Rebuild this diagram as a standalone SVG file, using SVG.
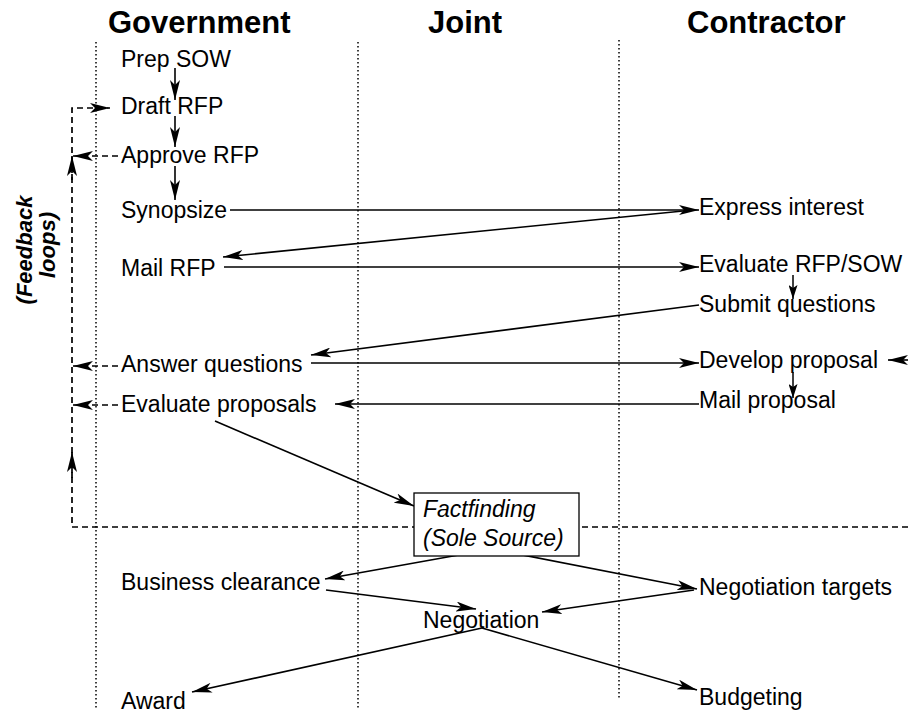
<svg xmlns="http://www.w3.org/2000/svg" width="908" height="715" viewBox="0 0 908 715">
<defs>
<marker id="ah" viewBox="0 0 20 10" refX="20" refY="5" markerWidth="20" markerHeight="10" orient="auto" markerUnits="userSpaceOnUse">
<path d="M0,0 L20,5 L0,10 L5,5 z" fill="#000"/>
</marker>
<marker id="ahs" viewBox="0 0 14 9" refX="14" refY="4.5" markerWidth="14" markerHeight="9" orient="auto" markerUnits="userSpaceOnUse">
<path d="M0,0 L14,4.5 L0,9 L3,4.5 z" fill="#000"/>
</marker>
<style>
.hdr{font-family:"Liberation Sans",Arial,sans-serif;font-weight:bold;font-size:31px;fill:#000}
.t{font-family:"Liberation Sans",Arial,sans-serif;font-size:23px;fill:#000}
.ti{font-family:"Liberation Sans",Arial,sans-serif;font-size:23px;font-style:italic;fill:#000}
.fb{font-family:"Liberation Sans",Arial,sans-serif;font-size:22px;font-weight:bold;font-style:italic;fill:#000}
.lane{stroke:#000;stroke-width:1.5;stroke-dasharray:1.5 2.5;fill:none}
.c{stroke:#000;stroke-width:1.6;fill:none;marker-end:url(#ah)}
.cs{stroke:#000;stroke-width:1.5;fill:none;marker-end:url(#ahs)}
.da{stroke:#000;stroke-width:1.7;fill:none;stroke-dasharray:6 4;marker-end:url(#ah)}
</style>
</defs>
<rect width="908" height="715" fill="#fff"/>
<g id="lanes">
<text class="hdr" x="108" y="33">Government</text>
<text class="hdr" x="428" y="33">Joint</text>
<text class="hdr" x="687" y="33">Contractor</text>
<line class="lane" x1="96" y1="42" x2="96" y2="710"/>
<line class="lane" x1="358" y1="42" x2="358" y2="710"/>
<line class="lane" x1="619" y1="40" x2="619" y2="698"/>
</g>
<g id="connectors">
<path class="da" d="M908,527 L72,527 L72,108 L110,108"/>
<line class="da" x1="72" y1="180" x2="72" y2="156"/>
<line class="da" x1="72" y1="478" x2="72" y2="452"/>
<line class="da" x1="118" y1="156" x2="73" y2="156"/>
<line class="da" x1="118" y1="366" x2="73" y2="366"/>
<line class="da" x1="118" y1="405" x2="73" y2="405"/>
<line class="c" x1="908" y1="360" x2="888" y2="360"/>
<line class="c" x1="175" y1="68" x2="175" y2="100"/>
<line class="c" x1="175" y1="116" x2="175" y2="147"/>
<line class="c" x1="175" y1="166" x2="175" y2="200"/>
<line class="c" x1="230" y1="210" x2="699" y2="210"/>
<line class="c" x1="693" y1="210" x2="223" y2="257"/>
<line class="c" x1="224" y1="267" x2="699" y2="267"/>
<line class="cs" x1="793" y1="275" x2="793" y2="299"/>
<line class="c" x1="699" y1="305" x2="311" y2="355"/>
<line class="c" x1="311" y1="363" x2="699" y2="363"/>
<line class="cs" x1="793" y1="372" x2="793" y2="398"/>
<line class="c" x1="699" y1="404" x2="335" y2="404"/>
<line class="c" x1="215" y1="421" x2="414" y2="506"/>
<line class="c" x1="492" y1="549" x2="325" y2="579"/>
<line class="c" x1="492" y1="549" x2="697" y2="589"/>
<line class="c" x1="326" y1="590" x2="476" y2="609"/>
<line class="c" x1="694" y1="590" x2="542" y2="612"/>
<line class="c" x1="482" y1="628" x2="192" y2="692"/>
<line class="c" x1="482" y1="628" x2="697" y2="690"/>
</g>
<g id="feedback-label">
<text class="fb" transform="translate(32,250) rotate(-90)" text-anchor="middle">(Feedback</text>
<text class="fb" transform="translate(55,245) rotate(-90)" text-anchor="middle">loops)</text>
</g>
<g id="prep-sow"><text class="t" x="121" y="67">Prep SOW</text></g>
<g id="draft-rfp"><text class="t" x="121" y="114">Draft RFP</text></g>
<g id="approve-rfp"><text class="t" x="121" y="163">Approve RFP</text></g>
<g id="synopsize"><text class="t" x="121" y="218">Synopsize</text></g>
<g id="mail-rfp"><text class="t" x="121" y="276">Mail RFP</text></g>
<g id="answer-questions"><text class="t" x="121" y="372">Answer questions</text></g>
<g id="evaluate-proposals"><text class="t" x="121" y="412">Evaluate proposals</text></g>
<g id="business-clearance"><text class="t" x="121" y="590">Business clearance</text></g>
<g id="award"><text class="t" x="121" y="709">Award</text></g>
<g id="factfinding">
<rect x="414" y="493" width="165" height="63" fill="#fff" stroke="#000" stroke-width="1.3"/>
<text class="ti" x="423" y="517">Factfinding</text>
<text class="ti" x="423" y="546">(Sole Source)</text>
</g>
<g id="negotiation"><text class="t" x="423" y="628">Negotiation</text></g>
<g id="express-interest"><text class="t" x="699" y="215">Express interest</text></g>
<g id="evaluate-rfp-sow"><text class="t" x="699" y="272">Evaluate RFP/SOW</text></g>
<g id="submit-questions"><text class="t" x="699" y="312">Submit questions</text></g>
<g id="develop-proposal"><text class="t" x="699" y="368">Develop proposal</text></g>
<g id="mail-proposal"><text class="t" x="699" y="408">Mail proposal</text></g>
<g id="negotiation-targets"><text class="t" x="699" y="595">Negotiation targets</text></g>
<g id="budgeting"><text class="t" x="699" y="705">Budgeting</text></g>
</svg>
